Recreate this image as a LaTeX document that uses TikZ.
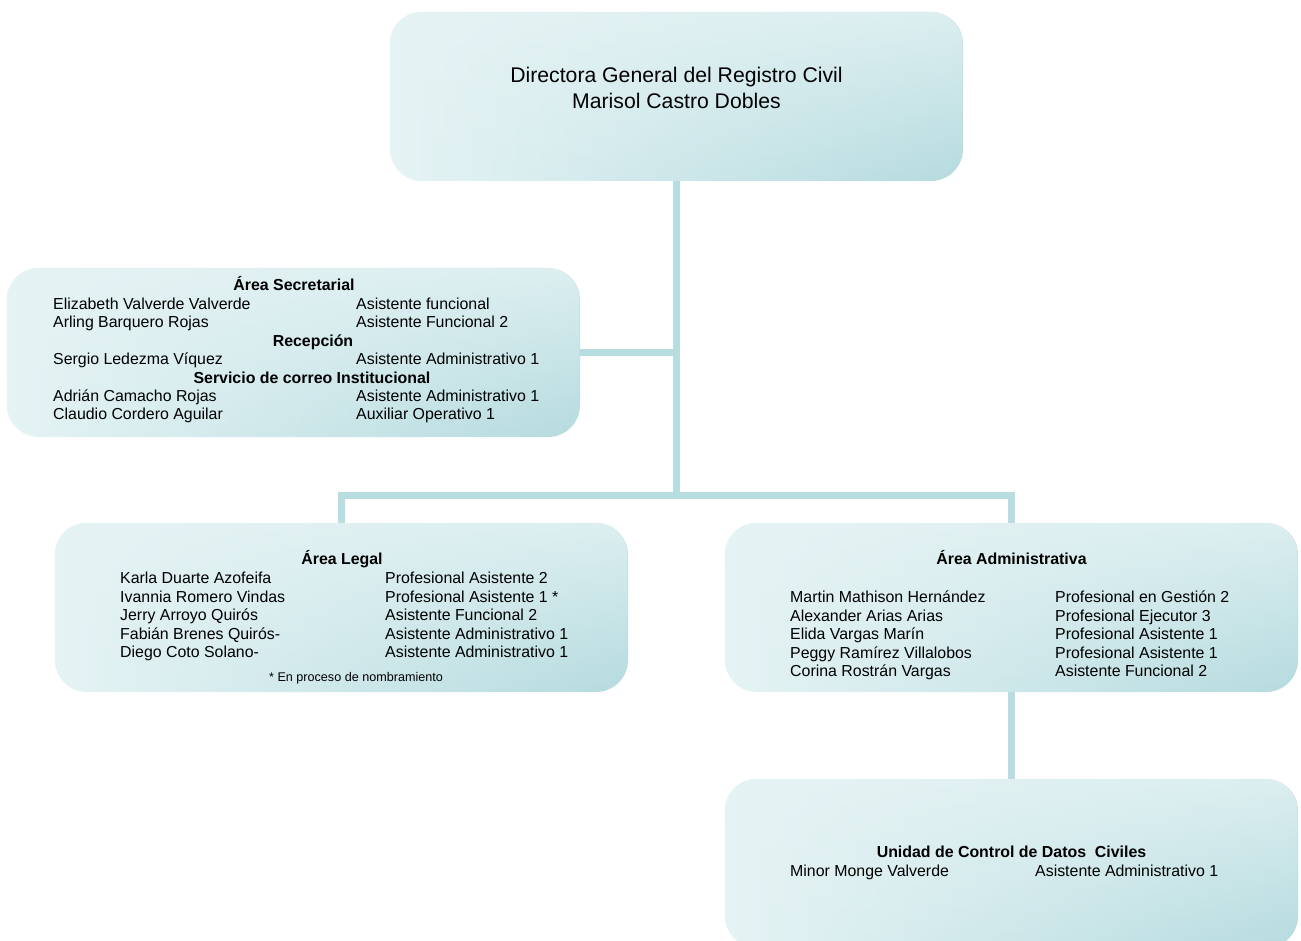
\documentclass[tikz,border=0pt]{standalone}
\usepackage{fontspec}
\setmainfont{Liberation Sans}
\usetikzlibrary{fadings}
\definecolor{boxL}{HTML}{E5F3F4}
\definecolor{boxR}{HTML}{B5DBDF}
\definecolor{conn}{HTML}{B7DDE1}
\tikzfading[name=topfade, top color=transparent!18, bottom color=transparent!100]
\begin{document}
\begin{tikzpicture}[x=1pt,y=-1pt,
  box/.style={rectangle, rounded corners=32pt, inner sep=0pt, draw=none,
    minimum width=573pt, minimum height=169pt,
    left color=boxL, right color=boxR},
  glow/.style={fill=boxL, rounded corners=32pt, path fading=topfade},
  conline/.style={draw=conn, line width=7pt, line join=miter},
  txt/.style={anchor=base west, inner sep=0pt, font=\fontsize{15.9}{18}\selectfont},
  head/.style={anchor=base, inner sep=0pt, font=\fontsize{15.9}{18}\selectfont\bfseries},
  title/.style={anchor=base, inner sep=0pt, font=\fontsize{21.2}{26}\selectfont},
  note/.style={anchor=base, inner sep=0pt, font=\fontsize{12.6}{15}\selectfont}]
\useasboundingbox (0,0) rectangle (1301,941);
% connectors (behind)
\coordinate (bus) at (676.5,495);
\coordinate (secj) at (676.5,352.5);
\coordinate (legj) at (341.5,495);
\coordinate (admj) at (1011.5,495);
\coordinate (topb) at (676.5,181);
\coordinate (secr) at (580,352.5);
\coordinate (legt) at (341.5,523);
\coordinate (admt) at (1011.5,523);
\coordinate (admb) at (1011.5,692);
\coordinate (unitt) at (1011.5,779);
\draw[conline] (topb) -- (bus);
\draw[conline] (secr) -- (secj);
\draw[conline] (legt) -- (legj) -- (admj) -- (admt);
\draw[conline] (admb) -- (unitt);
% boxes
\node[box] (top) at (676.5,96.5) {};
\node[box] (sec) at (293.5,352.5) {};
\node[box] (legal) at (341.5,607.5) {};
\node[box] (admin) at (1011.5,607.5) {};
\node[box] (unit) at (1011.5,863.5) {};
\foreach \n in {top,sec,legal,admin,unit}
  \fill[glow] (\n.north west) rectangle (\n.south east);
% top texts
\node[title] (t1) at (676.5,82.3) {Directora General del Registro Civil};
\node[title] (t2) at (676.5,108.3) {Marisol Castro Dobles};
% secretarial
\node[head] (s0) at (294,290.5) {Área Secretarial};
\node[txt] (s1n) at (53,309.5) {Elizabeth Valverde Valverde};
\node[txt] (s1r) at (356,309.5) {Asistente funcional};
\node[txt] (s2n) at (53,327.9) {Arling Barquero Rojas};
\node[txt] (s2r) at (356,327.9) {Asistente Funcional 2};
\node[head] (s3) at (313,346.3) {Recepción};
\node[txt] (s4n) at (53,364.7) {Sergio Ledezma Víquez};
\node[txt] (s4r) at (356,364.7) {Asistente Administrativo 1};
\node[head] (s5) at (312,383.1) {Servicio de correo Institucional};
\node[txt] (s6n) at (53,401.5) {Adrián Camacho Rojas};
\node[txt] (s6r) at (356,401.5) {Asistente Administrativo 1};
\node[txt] (s7n) at (53,419.9) {Claudio Cordero Aguilar};
\node[txt] (s7r) at (356,419.9) {Auxiliar Operativo 1};
% legal
\node[head] (l0) at (342,564.5) {Área Legal};
\node[txt] (l1n) at (120,583.5) {Karla Duarte Azofeifa};
\node[txt] (l1r) at (385,583.5) {Profesional Asistente 2};
\node[txt] (l2n) at (120,602) {Ivannia Romero Vindas};
\node[txt] (l2r) at (385,602) {Profesional Asistente 1 *};
\node[txt] (l3n) at (120,620.5) {Jerry Arroyo Quirós};
\node[txt] (l3r) at (385,620.5) {Asistente Funcional 2};
\node[txt] (l4n) at (120,639) {Fabián Brenes Quirós-};
\node[txt] (l4r) at (385,639) {Asistente Administrativo 1};
\node[txt] (l5n) at (120,657.5) {Diego Coto Solano-};
\node[txt] (l5r) at (385,657.5) {Asistente Administrativo 1};
\node[note] (lnote) at (356,681) {* En proceso de nombramiento};
% administrativa
\node[head] (a0) at (1011.5,564.5) {Área Administrativa};
\node[txt] (a1n) at (790,602.5) {Martin Mathison Hernández};
\node[txt] (a1r) at (1055,602.5) {Profesional en Gestión 2};
\node[txt] (a2n) at (790,621) {Alexander Arias Arias};
\node[txt] (a2r) at (1055,621) {Profesional Ejecutor 3};
\node[txt] (a3n) at (790,639.5) {Elida Vargas Marín};
\node[txt] (a3r) at (1055,639.5) {Profesional Asistente 1};
\node[txt] (a4n) at (790,658) {Peggy Ramírez Villalobos};
\node[txt] (a4r) at (1055,658) {Profesional Asistente 1};
\node[txt] (a5n) at (790,676.5) {Corina Rostrán Vargas};
\node[txt] (a5r) at (1055,676.5) {Asistente Funcional 2};
% unidad
\node[head] (u0) at (1011.5,857.5) {Unidad de Control de Datos\ \ Civiles};
\node[txt] (u1n) at (790,876.5) {Minor Monge Valverde};
\node[txt] (u1r) at (1035,876.5) {Asistente Administrativo 1};
\end{tikzpicture}
\end{document}
